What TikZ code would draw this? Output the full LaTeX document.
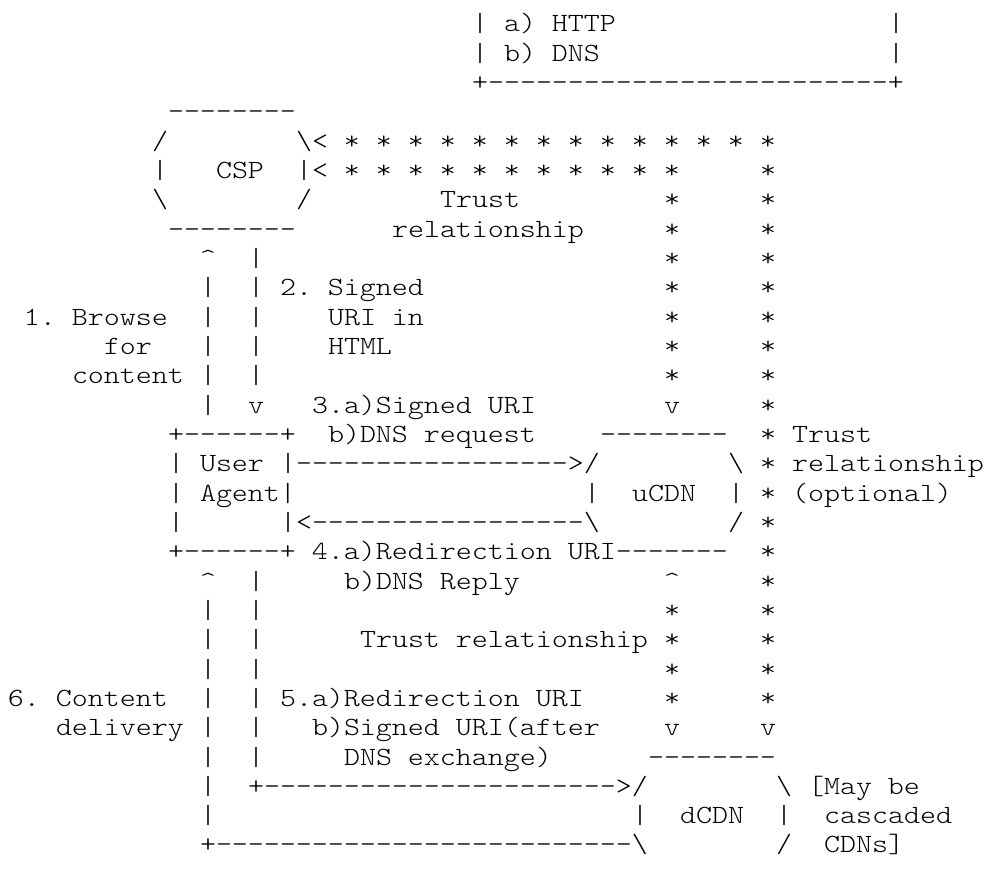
\documentclass[tikz,border=0pt]{standalone}
\usepackage{fontspec}
\usepackage{tikz}
\newfontfamily\asciifont[Ligatures=TeXOff,FakeStretch=1.16]{lmmonolt10-regular.otf}

\begin{document}
\begin{tikzpicture}[x=16pt,y=-29.32pt,
  txt/.style={anchor=base west,inner sep=0pt,outer sep=0pt,xshift=-8pt,
    font=\asciifont\fontsize{26.27}{29}\selectfont\frenchspacing}]

\useasboundingbox (-1,-1.091) rectangle (60.6875,28.717);

% request redirection modes box
\node[txt] (modesl0) at (29,0) {|};
\node[txt] (http) at (31,0) {a) HTTP};
\node[txt] (modesr0) at (55,0) {|};
\node[txt] (modesl1) at (29,1) {|};
\node[txt] (dns) at (31,1) {b) DNS};
\node[txt] (modesr1) at (55,1) {|};
\node[txt] (modesbot) at (29,2) {+-------------------------+};

% CSP
\node[txt] (csptop) at (10,3) {--------};
\node[txt] (cspnw) at (9,4) {/};
\node[txt] (trustrow1) at (18,4) {\textbackslash< * * * * * * * * * * * * * *};
\node[txt] (cspw) at (9,5) {|};
\node[txt] (csp) at (13,5) {CSP};
\node[txt] (trustrow2) at (18,5) {|< * * * * * * * * * * *};
\node[txt] (cspsw) at (9,6) {\textbackslash};
\node[txt] (cspse) at (18,6) {/};
\node[txt] (trusta) at (27,6) {Trust};
\node[txt] (cspbot) at (10,7) {--------};
\node[txt] (trustb) at (24,7) {relationship};

% star columns
\foreach \r in {5,...,23}
  \node[txt] (outer\r) at (47,\r) {*};
\foreach \r in {6,...,12,20,21,22,23}
  \node[txt] (inner\r) at (41,\r) {*};
\node[txt] (innerv) at (41,13) {v};
\node[txt] (innerup) at (41,19) {\textasciicircum};
\node[txt] (innerv2) at (41,24) {v};
\node[txt] (outerv) at (47,24) {v};

% arrows between CSP and user agent
\node[txt] (browseup) at (12,8) {\textasciicircum};
\node[txt] (signedtop) at (15,8) {|};
\foreach \r in {9,...,13}
  \node[txt] (browse\r) at (12,\r) {|};
\foreach \r in {9,...,12}
  \node[txt] (signed\r) at (15,\r) {|};
\node[txt] (signeddown) at (15,13) {v};
\node[txt] (step2a) at (17,9) {2. Signed};
\node[txt] (step1a) at (1,10) {1. Browse};
\node[txt] (step2b) at (20,10) {URI in};
\node[txt] (step1b) at (6,11) {for};
\node[txt] (step2c) at (20,11) {HTML};
\node[txt] (step1c) at (4,12) {content};
\node[txt] (step3a) at (19,13) {3.a)Signed URI};

% user agent and uCDN
\node[txt] (uatop) at (10,14) {+------+};
\node[txt] (step3b) at (20,14) {b)DNS request};
\node[txt] (ucdntop) at (37,14) {--------};
\node[txt] (opta) at (49,14) {Trust};
\node[txt] (uaw1) at (10,15) {|};
\node[txt] (ua1) at (12,15) {User};
\node[txt] (req) at (17,15) {|----------------->/};
\node[txt] (ucdnne) at (45,15) {\textbackslash};
\node[txt] (optb) at (49,15) {relationship};
\node[txt] (uaw2) at (10,16) {|};
\node[txt] (ua2) at (12,16) {Agent|};
\node[txt] (ucdnw) at (36,16) {|};
\node[txt] (ucdn) at (39,16) {uCDN};
\node[txt] (ucdne) at (45,16) {|};
\node[txt] (optc) at (49,16) {(optional)};
\node[txt] (uaw3) at (10,17) {|};
\node[txt] (reply) at (17,17) {|<-----------------\textbackslash};
\node[txt] (ucdnse) at (45,17) {/};
\node[txt] (uabot) at (10,18) {+------+ 4.a)Redirection URI-------};

% arrows between user agent and dCDN
\node[txt] (deliverup) at (12,19) {\textasciicircum};
\foreach \r in {20,...,27}
  \node[txt] (deliver\r) at (12,\r) {|};
\foreach \r in {19,...,25}
  \node[txt] (redir\r) at (15,\r) {|};
\node[txt] (step4b) at (21,19) {b)DNS Reply};
\node[txt] (trustc) at (22,21) {Trust relationship};
\node[txt] (step6a) at (0,23) {6. Content};
\node[txt] (step5a) at (17,23) {5.a)Redirection URI};
\node[txt] (step6b) at (3,24) {delivery};
\node[txt] (step5b) at (19,24) {b)Signed URI(after};
\node[txt] (step5c) at (21,25) {DNS exchange)};

% dCDN
\node[txt] (dcdntop) at (40,25) {--------};
\node[txt] (redirarrow) at (15,26) {+---------------------->/};
\node[txt] (dcdnne) at (48,26) {\textbackslash};
\node[txt] (casca) at (50,26) {[May be};
\node[txt] (dcdnw) at (39,27) {|};
\node[txt] (dcdn) at (42,27) {dCDN};
\node[txt] (dcdne) at (48,27) {|};
\node[txt] (cascb) at (51,27) {cascaded};
\node[txt] (deliverarrow) at (12,28) {+--------------------------\textbackslash};
\node[txt] (dcdnse) at (48,28) {/};
\node[txt] (cascc) at (51,28) {CDNs]};

\end{tikzpicture}
\end{document}
